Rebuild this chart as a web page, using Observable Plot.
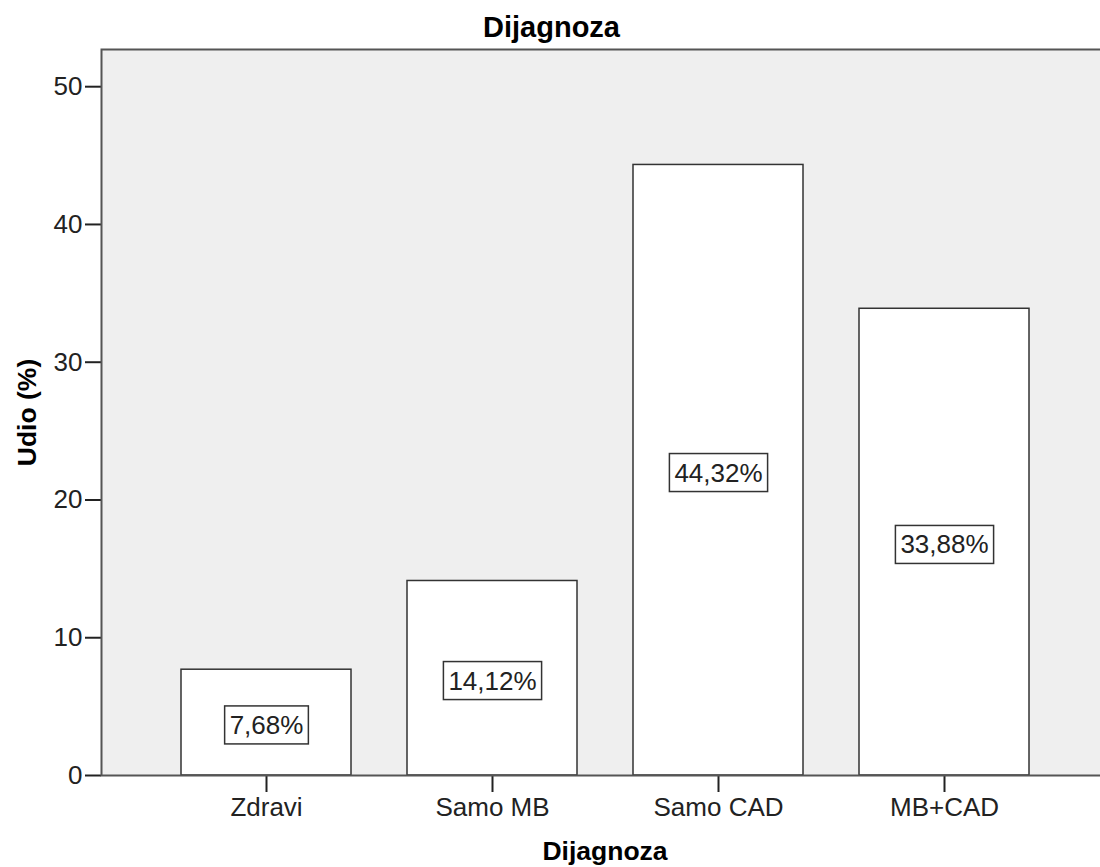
<!DOCTYPE html>
<html>
<head>
<meta charset="utf-8">
<script src="https://cdn.jsdelivr.net/npm/d3@7"></script>
<script src="https://cdn.jsdelivr.net/npm/@observablehq/plot@0.6"></script>
<style>
  html, body { margin: 0; padding: 0; background: #ffffff; }
  #chart { width: 1100px; height: 867px; }
  #chart svg g[aria-label="y-axis tick"] path,
  #chart svg g[aria-label="x-axis tick"] path { stroke-width: 2; }
</style>
</head>
<body>
<div id="chart"></div>
<script>
// ---- data ----
const categories = ["Zdravi", "Samo MB", "Samo CAD", "MB+CAD"];
const shares = [7.68, 14.12, 44.32, 33.88];
const yTicks = [0, 10, 20, 30, 40, 50];
const titleText = "Dijagnoza";
const xLabelText = "Dijagnoza";
const yLabelText = "Udio (%)";

const data = categories.map((c, i) => ({cat: c, value: shares[i]}));
const fmt = v => v.toFixed(2).replace(".", ",") + "%";

const plot = Plot.plot({
  width: 1100,
  height: 867,
  marginLeft: 101,
  marginRight: -8,
  marginTop: 49,
  marginBottom: 92,
  style: {
    fontFamily: "'Liberation Sans', Arial, sans-serif",
    fontSize: "26px",
    color: "#222",
    background: "white",
    overflow: "hidden"
  },
  x: {
    domain: categories,
    paddingInner: 0.25,
    paddingOuter: 0.351,
    align: 0.5,
    tickSize: 17,
    tickPadding: 5,
    label: null
  },
  y: {
    domain: [0, 52.7],
    ticks: yTicks,
    tickSize: 16,
    tickPadding: 3,
    tickFormat: d => String(d),
    label: null
  },
  marks: [
    Plot.frame({fill: "#efefef", stroke: "none"}),
    Plot.barY(data, {x: "cat", y: "value", fill: "white", stroke: "#333", strokeWidth: 1.5}),
    Plot.frame({fill: "none", stroke: "#555", strokeWidth: 2}),
    Plot.text(data, {
      x: "cat",
      y: d => d.value / 2,
      text: d => fmt(d.value),
      dy: 3,
      fontSize: 26,
      fill: "#222"
    }),
    Plot.text([titleText], {
      frameAnchor: "top",
      textAnchor: "middle",
      text: d => d,
      dx: -53.5,
      dy: -33,
      fontSize: 29,
      fontWeight: "bold",
      fill: "#000"
    }),
    Plot.text([xLabelText], {
      frameAnchor: "bottom",
      textAnchor: "middle",
      text: d => d,
      dy: 84,
      fontSize: 26.5,
      fontWeight: "bold",
      fill: "#000"
    }),
    Plot.text([yLabelText], {
      frameAnchor: "left",
      textAnchor: "middle",
      text: d => d,
      rotate: -90,
      dx: -74,
      dy: 0,
      fontSize: 26.5,
      fontWeight: "bold",
      fill: "#000"
    })
  ]
});

document.getElementById("chart").appendChild(plot);

// Draw boxes behind the value labels
const ns = "http://www.w3.org/2000/svg";
const labelSet = new Set(shares.map(fmt));
plot.querySelectorAll("text").forEach(t => {
  if (!labelSet.has(t.textContent.trim())) return;
  const b = t.getBBox();
  const r = document.createElementNS(ns, "rect");
  r.setAttribute("x", b.x - 5);
  r.setAttribute("y", b.y - 4);
  r.setAttribute("width", b.width + 10);
  r.setAttribute("height", b.height + 8);
  r.setAttribute("fill", "white");
  r.setAttribute("stroke", "#333");
  r.setAttribute("stroke-width", 1.5);
  const tr = t.getAttribute("transform");
  if (tr) r.setAttribute("transform", tr);
  t.parentNode.insertBefore(r, t);
});
</script>
</body>
</html>
